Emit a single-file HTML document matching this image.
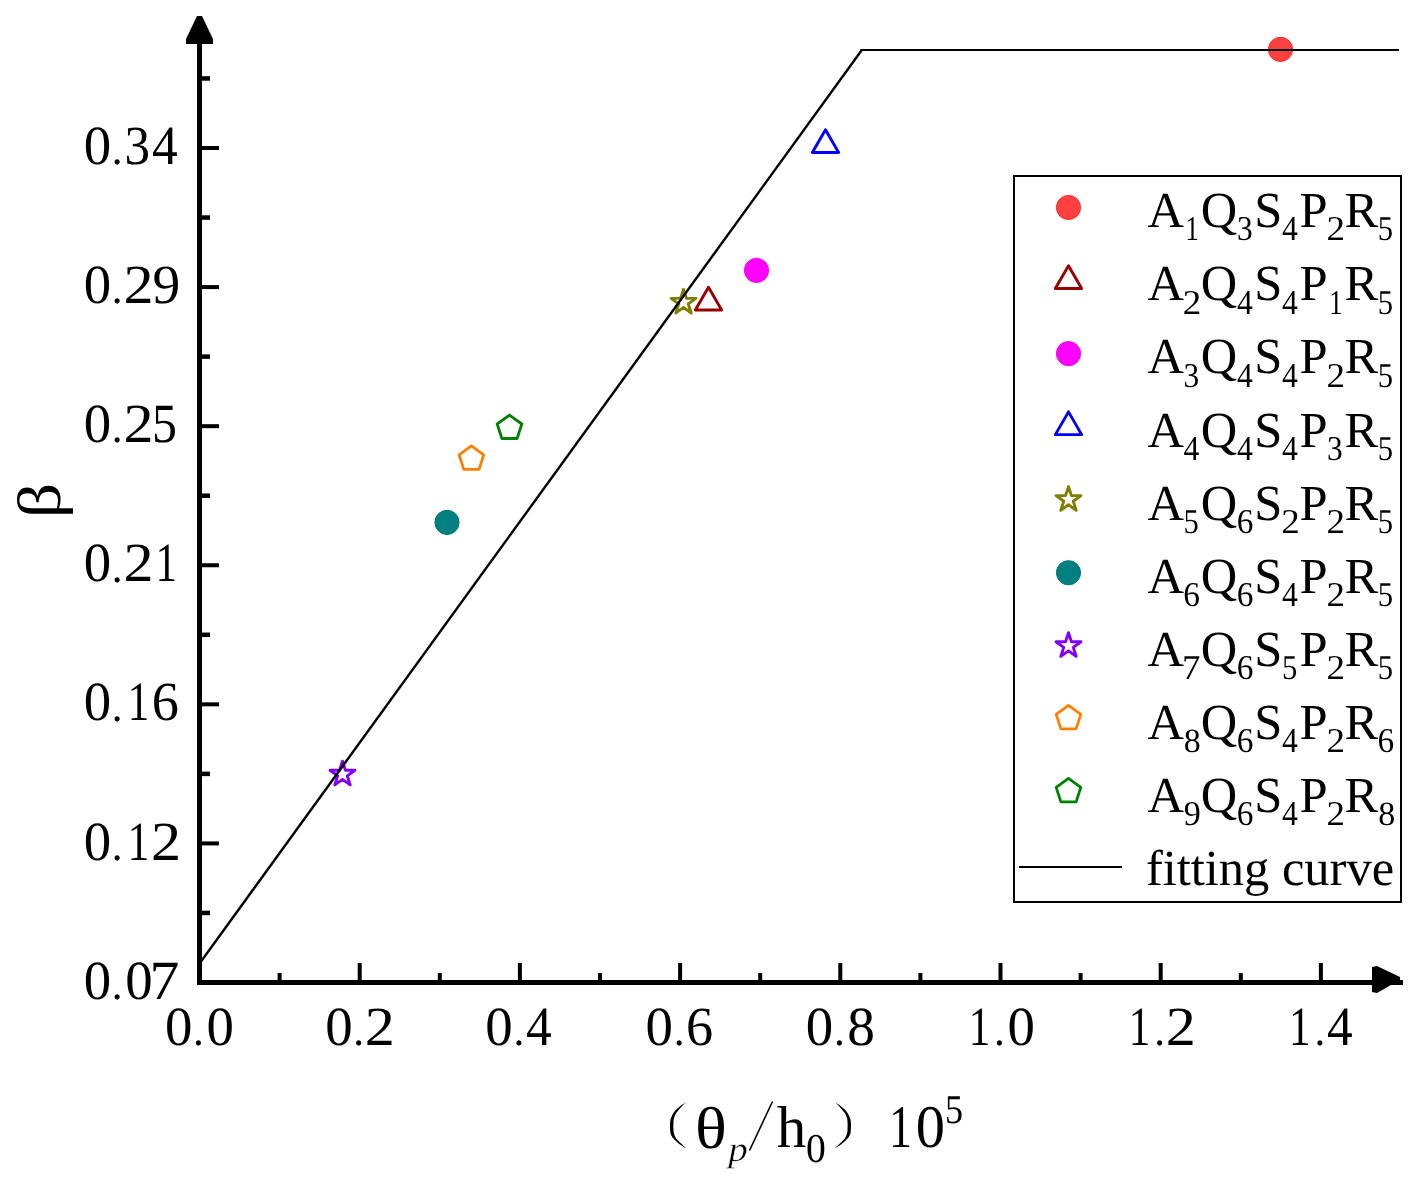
<!DOCTYPE html>
<html><head><meta charset="utf-8"><style>html,body{margin:0;padding:0;background:#fff;overflow:hidden}svg{display:block;will-change:transform}text{font-variant-ligatures:none;font-kerning:none;text-rendering:geometricPrecision}</style></head>
<body>
<svg width="1424" height="1179" viewBox="0 0 1424 1179">
<rect width="100%" height="100%" fill="#fff"/>
<rect x="202" y="146.00" width="17" height="4" fill="#000"/>
<rect x="202" y="285.08" width="17" height="4" fill="#000"/>
<rect x="202" y="424.17" width="17" height="4" fill="#000"/>
<rect x="202" y="563.25" width="17" height="4" fill="#000"/>
<rect x="202" y="702.33" width="17" height="4" fill="#000"/>
<rect x="202" y="841.42" width="17" height="4" fill="#000"/>
<rect x="202" y="76.21" width="8" height="4.5" fill="#000"/>
<rect x="202" y="215.29" width="8" height="4.5" fill="#000"/>
<rect x="202" y="354.38" width="8" height="4.5" fill="#000"/>
<rect x="202" y="493.46" width="8" height="4.5" fill="#000"/>
<rect x="202" y="632.54" width="8" height="4.5" fill="#000"/>
<rect x="202" y="771.63" width="8" height="4.5" fill="#000"/>
<rect x="202" y="910.71" width="8" height="4.5" fill="#000"/>
<rect x="357.70" y="963" width="4" height="17" fill="#000"/>
<rect x="517.90" y="963" width="4" height="17" fill="#000"/>
<rect x="678.10" y="963" width="4" height="17" fill="#000"/>
<rect x="838.30" y="963" width="4" height="17" fill="#000"/>
<rect x="998.50" y="963" width="4" height="17" fill="#000"/>
<rect x="1158.70" y="963" width="4" height="17" fill="#000"/>
<rect x="1318.90" y="963" width="4" height="17" fill="#000"/>
<rect x="277.60" y="973" width="4" height="7" fill="#000"/>
<rect x="437.80" y="973" width="4" height="7" fill="#000"/>
<rect x="598.00" y="973" width="4" height="7" fill="#000"/>
<rect x="758.20" y="973" width="4" height="7" fill="#000"/>
<rect x="918.40" y="973" width="4" height="7" fill="#000"/>
<rect x="1078.60" y="973" width="4" height="7" fill="#000"/>
<rect x="1238.80" y="973" width="4" height="7" fill="#000"/>
<rect x="197" y="44" width="5" height="941" fill="#000"/>
<rect x="197" y="980" width="1206" height="5" fill="#000"/>
<polygon points="197,16 202,16 213,39 213,44 186,44 186,39" fill="#000"/>
<polygon points="1372,967 1377,966 1400,977 1400,980 1403,980 1403,985 1391,985 1377,993 1372,992" fill="#000"/>
<g font-family="Liberation Serif, serif" font-size="55.3" fill="#000">
<text transform="translate(85.76,164.1) scale(0.991,1.0) translate(-2.11,0)" font-size="55.3">0</text><text transform="translate(114.65,164.25) scale(0.781,0.820) translate(-3.65,0)" font-size="55.3">.</text><text transform="translate(126.93,164.1) scale(0.923,1.0) translate(-2.65,0)" font-size="55.3">3</text><text transform="translate(153.02,164.1) scale(0.930,1.0) translate(-1.08,0)" font-size="55.3">4</text>
<text transform="translate(85.76,303.18) scale(0.991,1.0) translate(-2.11,0)" font-size="55.3">0</text><text transform="translate(114.65,303.33) scale(0.781,0.820) translate(-3.65,0)" font-size="55.3">.</text><text transform="translate(126.02,303.18) scale(1.088,1.0) translate(-2.43,0)" font-size="55.3">2</text><text transform="translate(154.31,303.18) scale(1.003,1.0) translate(-1.78,0)" font-size="55.3">9</text>
<text transform="translate(85.76,442.27) scale(0.991,1.0) translate(-2.11,0)" font-size="55.3">0</text><text transform="translate(114.65,442.42) scale(0.781,0.820) translate(-3.65,0)" font-size="55.3">.</text><text transform="translate(126.02,442.27) scale(1.088,1.0) translate(-2.43,0)" font-size="55.3">2</text><text transform="translate(154.94,442.27) scale(0.902,1.0) translate(-3.21,0)" font-size="55.3">5</text>
<text transform="translate(85.76,581.35) scale(0.991,1.0) translate(-2.11,0)" font-size="55.3">0</text><text transform="translate(114.65,581.50) scale(0.781,0.820) translate(-3.65,0)" font-size="55.3">.</text><text transform="translate(126.02,581.35) scale(1.088,1.0) translate(-2.43,0)" font-size="55.3">2</text><text transform="translate(159.26,581.35) scale(0.779,1.0) translate(-4.86,0)" font-size="55.3">1</text>
<text transform="translate(85.76,720.43) scale(0.991,1.0) translate(-2.11,0)" font-size="55.3">0</text><text transform="translate(114.65,720.58) scale(0.781,0.820) translate(-3.65,0)" font-size="55.3">.</text><text transform="translate(131.61,720.43) scale(0.779,1.0) translate(-4.86,0)" font-size="55.3">1</text><text transform="translate(154.02,720.43) scale(0.982,1.0) translate(-2.38,0)" font-size="55.3">6</text>
<text transform="translate(85.76,859.52) scale(0.991,1.0) translate(-2.11,0)" font-size="55.3">0</text><text transform="translate(114.65,859.67) scale(0.781,0.820) translate(-3.65,0)" font-size="55.3">.</text><text transform="translate(131.61,859.52) scale(0.779,1.0) translate(-4.86,0)" font-size="55.3">1</text><text transform="translate(153.67,859.52) scale(1.088,1.0) translate(-2.43,0)" font-size="55.3">2</text>
<text transform="translate(85.76,998.6) scale(0.991,1.0) translate(-2.11,0)" font-size="55.3">0</text><text transform="translate(114.65,998.75) scale(0.781,0.820) translate(-3.65,0)" font-size="55.3">.</text><text transform="translate(127.23,998.6) scale(0.991,1.0) translate(-2.11,0)" font-size="55.3">0</text><text transform="translate(153.53,998.6) scale(1.080,1.0) translate(-3.65,0)" font-size="55.3">7</text>
<text transform="translate(167.04,1044.5) scale(0.991,1.0) translate(-2.11,0)" font-size="55.3">0</text><text transform="translate(195.94,1044.65) scale(0.781,0.820) translate(-3.65,0)" font-size="55.3">.</text><text transform="translate(208.52,1044.5) scale(0.991,1.0) translate(-2.11,0)" font-size="55.3">0</text>
<text transform="translate(327.24,1044.5) scale(0.991,1.0) translate(-2.11,0)" font-size="55.3">0</text><text transform="translate(356.14,1044.65) scale(0.781,0.820) translate(-3.65,0)" font-size="55.3">.</text><text transform="translate(367.50,1044.5) scale(1.088,1.0) translate(-2.43,0)" font-size="55.3">2</text>
<text transform="translate(487.44,1044.5) scale(0.991,1.0) translate(-2.11,0)" font-size="55.3">0</text><text transform="translate(516.34,1044.65) scale(0.781,0.820) translate(-3.65,0)" font-size="55.3">.</text><text transform="translate(527.06,1044.5) scale(0.930,1.0) translate(-1.08,0)" font-size="55.3">4</text>
<text transform="translate(647.64,1044.5) scale(0.991,1.0) translate(-2.11,0)" font-size="55.3">0</text><text transform="translate(676.54,1044.65) scale(0.781,0.820) translate(-3.65,0)" font-size="55.3">.</text><text transform="translate(688.25,1044.5) scale(0.982,1.0) translate(-2.38,0)" font-size="55.3">6</text>
<text transform="translate(807.84,1044.5) scale(0.991,1.0) translate(-2.11,0)" font-size="55.3">0</text><text transform="translate(836.74,1044.65) scale(0.781,0.820) translate(-3.65,0)" font-size="55.3">.</text><text x="847.21" y="1044.5" font-size="55.3">8</text>
<text transform="translate(972.42,1044.5) scale(0.779,1.0) translate(-4.86,0)" font-size="55.3">1</text><text transform="translate(996.94,1044.65) scale(0.781,0.820) translate(-3.65,0)" font-size="55.3">.</text><text transform="translate(1009.52,1044.5) scale(0.991,1.0) translate(-2.11,0)" font-size="55.3">0</text>
<text transform="translate(1132.62,1044.5) scale(0.779,1.0) translate(-4.86,0)" font-size="55.3">1</text><text transform="translate(1157.14,1044.65) scale(0.781,0.820) translate(-3.65,0)" font-size="55.3">.</text><text transform="translate(1168.50,1044.5) scale(1.088,1.0) translate(-2.43,0)" font-size="55.3">2</text>
<text transform="translate(1292.82,1044.5) scale(0.779,1.0) translate(-4.86,0)" font-size="55.3">1</text><text transform="translate(1317.34,1044.65) scale(0.781,0.820) translate(-3.65,0)" font-size="55.3">.</text><text transform="translate(1328.06,1044.5) scale(0.930,1.0) translate(-1.08,0)" font-size="55.3">4</text>
</g>
<circle cx="1280.5" cy="49.4" r="12.1" fill="#FF4040" stroke="#FF2A2A" stroke-width="1"/>
<polygon points="708.50,287.20 721.66,310.00 695.34,310.00" fill="none" stroke="#960000" stroke-width="2.9" stroke-linejoin="round"/>
<circle cx="756.5" cy="270.4" r="12.1" fill="#FF00FF" stroke="#F000F0" stroke-width="1"/>
<polygon points="825.50,129.70 838.66,152.50 812.34,152.50" fill="none" stroke="#0000FF" stroke-width="2.9" stroke-linejoin="round"/>
<polygon points="683.50,289.30 686.44,298.35 695.96,298.35 688.26,303.95 691.20,313.00 683.50,307.40 675.80,313.00 678.74,303.95 671.04,298.35 680.56,298.35" fill="none" stroke="#808000" stroke-width="2.9" stroke-linejoin="round"/>
<circle cx="447" cy="522.4" r="12.1" fill="#008080" stroke="#007575" stroke-width="1"/>
<polygon points="342.50,761.20 345.44,770.25 354.96,770.25 347.26,775.85 350.20,784.90 342.50,779.30 334.80,784.90 337.74,775.85 330.04,770.25 339.56,770.25" fill="none" stroke="#8000FF" stroke-width="2.9" stroke-linejoin="round"/>
<polygon points="471.40,445.95 483.72,454.90 479.01,469.38 463.79,469.38 459.08,454.90" fill="none" stroke="#FF8000" stroke-width="2.8" stroke-linejoin="round"/>
<polygon points="509.50,415.05 521.82,424.00 517.11,438.48 501.89,438.48 497.18,424.00" fill="none" stroke="#008000" stroke-width="2.8" stroke-linejoin="round"/>
<polygon points="199.14,962 202.14,962 864.06,49 861.06,49" fill="#000"/>
<rect x="860.5" y="49" width="538.5" height="2" fill="#000"/>
<rect x="1014" y="176" width="387" height="726" fill="none" stroke="#000" stroke-width="2"/>
<g font-family="Liberation Serif, serif" font-size="50.5" fill="#000">
<circle cx="1068.5" cy="207.5" r="12.1" fill="#FF4040" stroke="#FF2A2A" stroke-width="1"/>
<text x="1147.40" y="227.2" font-size="50.5">A</text>
<text transform="translate(1187.85,240.4) scale(0.779,1.025) translate(-2.99,0)" font-size="34">1</text>
<text x="1200.87" y="227.2" font-size="50.5">Q</text>
<text transform="translate(1238.45,240.4) scale(0.923,1.025) translate(-1.63,0)" font-size="34">3</text>
<text x="1254.34" y="227.2" font-size="50.5">S</text>
<text transform="translate(1282.57,240.4) scale(0.930,1.025) translate(-0.66,0)" font-size="34">4</text>
<text x="1299.42" y="227.2" font-size="50.5">P</text>
<text transform="translate(1328.06,240.4) scale(1.088,1.025) translate(-1.49,0)" font-size="34">2</text>
<text x="1344.51" y="227.2" font-size="50.5">R</text>
<text transform="translate(1379.52,240.4) scale(0.902,1.025) translate(-1.98,0)" font-size="34">5</text>
<polygon points="1068.50,265.75 1081.66,288.55 1055.34,288.55" fill="none" stroke="#960000" stroke-width="2.9" stroke-linejoin="round"/>
<text x="1147.40" y="300.3" font-size="50.5">A</text>
<text transform="translate(1184.42,313.5) scale(1.088,1.025) translate(-1.49,0)" font-size="34">2</text>
<text x="1200.87" y="300.3" font-size="50.5">Q</text>
<text transform="translate(1237.49,313.5) scale(0.930,1.025) translate(-0.66,0)" font-size="34">4</text>
<text x="1254.34" y="300.3" font-size="50.5">S</text>
<text transform="translate(1282.57,313.5) scale(0.930,1.025) translate(-0.66,0)" font-size="34">4</text>
<text x="1299.42" y="300.3" font-size="50.5">P</text>
<text transform="translate(1331.49,313.5) scale(0.779,1.025) translate(-2.99,0)" font-size="34">1</text>
<text x="1344.51" y="300.3" font-size="50.5">R</text>
<text transform="translate(1379.52,313.5) scale(0.902,1.025) translate(-1.98,0)" font-size="34">5</text>
<circle cx="1068.5" cy="353.6" r="12.1" fill="#FF00FF" stroke="#F000F0" stroke-width="1"/>
<text x="1147.40" y="373.4" font-size="50.5">A</text>
<text transform="translate(1184.98,386.6) scale(0.923,1.025) translate(-1.63,0)" font-size="34">3</text>
<text x="1200.87" y="373.4" font-size="50.5">Q</text>
<text transform="translate(1237.49,386.6) scale(0.930,1.025) translate(-0.66,0)" font-size="34">4</text>
<text x="1254.34" y="373.4" font-size="50.5">S</text>
<text transform="translate(1282.57,386.6) scale(0.930,1.025) translate(-0.66,0)" font-size="34">4</text>
<text x="1299.42" y="373.4" font-size="50.5">P</text>
<text transform="translate(1328.06,386.6) scale(1.088,1.025) translate(-1.49,0)" font-size="34">2</text>
<text x="1344.51" y="373.4" font-size="50.5">R</text>
<text transform="translate(1379.52,386.6) scale(0.902,1.025) translate(-1.98,0)" font-size="34">5</text>
<polygon points="1068.50,411.85 1081.66,434.65 1055.34,434.65" fill="none" stroke="#0000FF" stroke-width="2.9" stroke-linejoin="round"/>
<text x="1147.40" y="446.5" font-size="50.5">A</text>
<text transform="translate(1184.02,459.7) scale(0.930,1.025) translate(-0.66,0)" font-size="34">4</text>
<text x="1200.87" y="446.5" font-size="50.5">Q</text>
<text transform="translate(1237.49,459.7) scale(0.930,1.025) translate(-0.66,0)" font-size="34">4</text>
<text x="1254.34" y="446.5" font-size="50.5">S</text>
<text transform="translate(1282.57,459.7) scale(0.930,1.025) translate(-0.66,0)" font-size="34">4</text>
<text x="1299.42" y="446.5" font-size="50.5">P</text>
<text transform="translate(1328.62,459.7) scale(0.923,1.025) translate(-1.63,0)" font-size="34">3</text>
<text x="1344.51" y="446.5" font-size="50.5">R</text>
<text transform="translate(1379.52,459.7) scale(0.902,1.025) translate(-1.98,0)" font-size="34">5</text>
<polygon points="1068.50,486.60 1071.44,495.65 1080.96,495.65 1073.26,501.25 1076.20,510.30 1068.50,504.70 1060.80,510.30 1063.74,501.25 1056.04,495.65 1065.56,495.65" fill="none" stroke="#808000" stroke-width="2.9" stroke-linejoin="round"/>
<text x="1147.40" y="519.6" font-size="50.5">A</text>
<text transform="translate(1185.20,532.8) scale(0.902,1.025) translate(-1.98,0)" font-size="34">5</text>
<text x="1200.87" y="519.6" font-size="50.5">Q</text>
<text transform="translate(1238.10,532.8) scale(0.982,1.025) translate(-1.46,0)" font-size="34">6</text>
<text x="1254.34" y="519.6" font-size="50.5">S</text>
<text transform="translate(1282.97,532.8) scale(1.088,1.025) translate(-1.49,0)" font-size="34">2</text>
<text x="1299.42" y="519.6" font-size="50.5">P</text>
<text transform="translate(1328.06,532.8) scale(1.088,1.025) translate(-1.49,0)" font-size="34">2</text>
<text x="1344.51" y="519.6" font-size="50.5">R</text>
<text transform="translate(1379.52,532.8) scale(0.902,1.025) translate(-1.98,0)" font-size="34">5</text>
<circle cx="1068.5" cy="572.75" r="12.1" fill="#008080" stroke="#007575" stroke-width="1"/>
<text x="1147.40" y="592.7" font-size="50.5">A</text>
<text transform="translate(1184.63,605.9) scale(0.982,1.025) translate(-1.46,0)" font-size="34">6</text>
<text x="1200.87" y="592.7" font-size="50.5">Q</text>
<text transform="translate(1238.10,605.9) scale(0.982,1.025) translate(-1.46,0)" font-size="34">6</text>
<text x="1254.34" y="592.7" font-size="50.5">S</text>
<text transform="translate(1282.57,605.9) scale(0.930,1.025) translate(-0.66,0)" font-size="34">4</text>
<text x="1299.42" y="592.7" font-size="50.5">P</text>
<text transform="translate(1328.06,605.9) scale(1.088,1.025) translate(-1.49,0)" font-size="34">2</text>
<text x="1344.51" y="592.7" font-size="50.5">R</text>
<text transform="translate(1379.52,605.9) scale(0.902,1.025) translate(-1.98,0)" font-size="34">5</text>
<polygon points="1068.50,632.70 1071.44,641.75 1080.96,641.75 1073.26,647.35 1076.20,656.40 1068.50,650.80 1060.80,656.40 1063.74,647.35 1056.04,641.75 1065.56,641.75" fill="none" stroke="#8000FF" stroke-width="2.9" stroke-linejoin="round"/>
<text x="1147.40" y="665.8" font-size="50.5">A</text>
<text transform="translate(1184.33,679.0) scale(1.080,1.025) translate(-2.24,0)" font-size="34">7</text>
<text x="1200.87" y="665.8" font-size="50.5">Q</text>
<text transform="translate(1238.10,679.0) scale(0.982,1.025) translate(-1.46,0)" font-size="34">6</text>
<text x="1254.34" y="665.8" font-size="50.5">S</text>
<text transform="translate(1283.75,679.0) scale(0.902,1.025) translate(-1.98,0)" font-size="34">5</text>
<text x="1299.42" y="665.8" font-size="50.5">P</text>
<text transform="translate(1328.06,679.0) scale(1.088,1.025) translate(-1.49,0)" font-size="34">2</text>
<text x="1344.51" y="665.8" font-size="50.5">R</text>
<text transform="translate(1379.52,679.0) scale(0.902,1.025) translate(-1.98,0)" font-size="34">5</text>
<polygon points="1068.50,705.40 1080.82,714.35 1076.11,728.83 1060.89,728.83 1056.18,714.35" fill="none" stroke="#FF8000" stroke-width="2.8" stroke-linejoin="round"/>
<text x="1147.40" y="738.9" font-size="50.5">A</text>
<text x="1183.87" y="752.1" font-size="34">8</text>
<text x="1200.87" y="738.9" font-size="50.5">Q</text>
<text transform="translate(1238.10,752.1) scale(0.982,1.025) translate(-1.46,0)" font-size="34">6</text>
<text x="1254.34" y="738.9" font-size="50.5">S</text>
<text transform="translate(1282.57,752.1) scale(0.930,1.025) translate(-0.66,0)" font-size="34">4</text>
<text x="1299.42" y="738.9" font-size="50.5">P</text>
<text transform="translate(1328.06,752.1) scale(1.088,1.025) translate(-1.49,0)" font-size="34">2</text>
<text x="1344.51" y="738.9" font-size="50.5">R</text>
<text transform="translate(1378.96,752.1) scale(0.982,1.025) translate(-1.46,0)" font-size="34">6</text>
<polygon points="1068.50,778.45 1080.82,787.40 1076.11,801.88 1060.89,801.88 1056.18,787.40" fill="none" stroke="#008000" stroke-width="2.8" stroke-linejoin="round"/>
<text x="1147.40" y="812.0" font-size="50.5">A</text>
<text transform="translate(1184.82,825.2) scale(1.003,1.025) translate(-1.10,0)" font-size="34">9</text>
<text x="1200.87" y="812.0" font-size="50.5">Q</text>
<text transform="translate(1238.10,825.2) scale(0.982,1.025) translate(-1.46,0)" font-size="34">6</text>
<text x="1254.34" y="812.0" font-size="50.5">S</text>
<text transform="translate(1282.57,825.2) scale(0.930,1.025) translate(-0.66,0)" font-size="34">4</text>
<text x="1299.42" y="812.0" font-size="50.5">P</text>
<text transform="translate(1328.06,825.2) scale(1.088,1.025) translate(-1.49,0)" font-size="34">2</text>
<text x="1344.51" y="812.0" font-size="50.5">R</text>
<text x="1378.19" y="825.2" font-size="34">8</text>
<line x1="1019" y1="867" x2="1122" y2="867" stroke="#000" stroke-width="2"/>
<text x="1145.9" y="885.0999999999999">fitting curve</text>
</g>
<text transform="translate(59.5,500.5) rotate(-90) scale(1.12,0.985)" font-family="Liberation Serif, serif" font-size="62" text-anchor="middle">β</text>
<g font-family="Liberation Serif, serif" fill="#000">
<path d="M686.00,1102.60 C685.07,1103.15 682.03,1104.73 680.40,1105.90 C678.77,1107.07 677.27,1108.53 676.20,1109.60 C675.13,1110.67 674.68,1111.33 674.00,1112.30 C673.32,1113.27 672.73,1113.92 672.10,1115.40 C671.47,1116.88 670.52,1118.67 670.20,1121.20 C669.88,1123.73 670.07,1128.35 670.20,1130.60 C670.33,1132.85 670.42,1133.33 671.00,1134.70 C671.58,1136.07 672.78,1137.68 673.70,1138.80 C674.62,1139.92 675.57,1140.55 676.50,1141.40 C677.43,1142.25 677.72,1142.75 679.30,1143.90 C680.88,1145.05 684.88,1147.57 686.00,1148.30 L686.00,1148.30 C685.20,1147.52 682.83,1145.25 681.20,1143.60 C679.57,1141.95 677.35,1139.92 676.20,1138.40 C675.05,1136.88 674.75,1135.80 674.30,1134.50 C673.85,1133.20 673.63,1132.82 673.50,1130.60 C673.37,1128.38 673.32,1123.60 673.50,1121.20 C673.68,1118.80 674.05,1117.68 674.60,1116.20 C675.15,1114.72 675.58,1113.97 676.80,1112.30 C678.02,1110.63 680.37,1107.82 681.90,1106.20 C683.43,1104.58 685.32,1103.20 686.00,1102.60 Z" fill="#000"/>
<path d="M835.00,1102.60 C835.93,1103.15 838.97,1104.73 840.60,1105.90 C842.23,1107.07 843.73,1108.53 844.80,1109.60 C845.87,1110.67 846.32,1111.33 847.00,1112.30 C847.68,1113.27 848.27,1113.92 848.90,1115.40 C849.53,1116.88 850.48,1118.67 850.80,1121.20 C851.12,1123.73 850.93,1128.35 850.80,1130.60 C850.67,1132.85 850.58,1133.33 850.00,1134.70 C849.42,1136.07 848.22,1137.68 847.30,1138.80 C846.38,1139.92 845.43,1140.55 844.50,1141.40 C843.57,1142.25 843.28,1142.75 841.70,1143.90 C840.12,1145.05 836.12,1147.57 835.00,1148.30 L835.00,1148.30 C835.80,1147.52 838.17,1145.25 839.80,1143.60 C841.43,1141.95 843.65,1139.92 844.80,1138.40 C845.95,1136.88 846.25,1135.80 846.70,1134.50 C847.15,1133.20 847.37,1132.82 847.50,1130.60 C847.63,1128.38 847.68,1123.60 847.50,1121.20 C847.32,1118.80 846.95,1117.68 846.40,1116.20 C845.85,1114.72 845.42,1113.97 844.20,1112.30 C842.98,1110.63 840.63,1107.82 839.10,1106.20 C837.57,1104.58 835.68,1103.20 835.00,1102.60 Z" fill="#000"/>
<text transform="translate(695,1147.5) scale(1.125,1)" font-size="59">θ</text>
<text transform="translate(728.3,1160.6) scale(1.1,1)" font-size="35.5" font-style="italic" stroke="#fff" stroke-width="0.4">p</text>
<line x1="749.5" y1="1150.5" x2="772.5" y2="1101.5" stroke="#000" stroke-width="1.6"/>
<text x="776.7" y="1147.3" font-size="59">h</text>
<text transform="translate(807.52,1161.8) scale(0.991,1.025) translate(-1.52,0)" font-size="40">0</text>
<text transform="translate(893.06,1147.3) scale(0.779,1.025) translate(-5.19,0)" font-size="59">1</text><text transform="translate(917.90,1147.3) scale(0.991,1.025) translate(-2.25,0)" font-size="59">0</text>
<text transform="translate(947.16,1122.6) scale(0.902,1.025) translate(-2.32,0)" font-size="40">5</text>
</g>
</svg>
</body></html>
